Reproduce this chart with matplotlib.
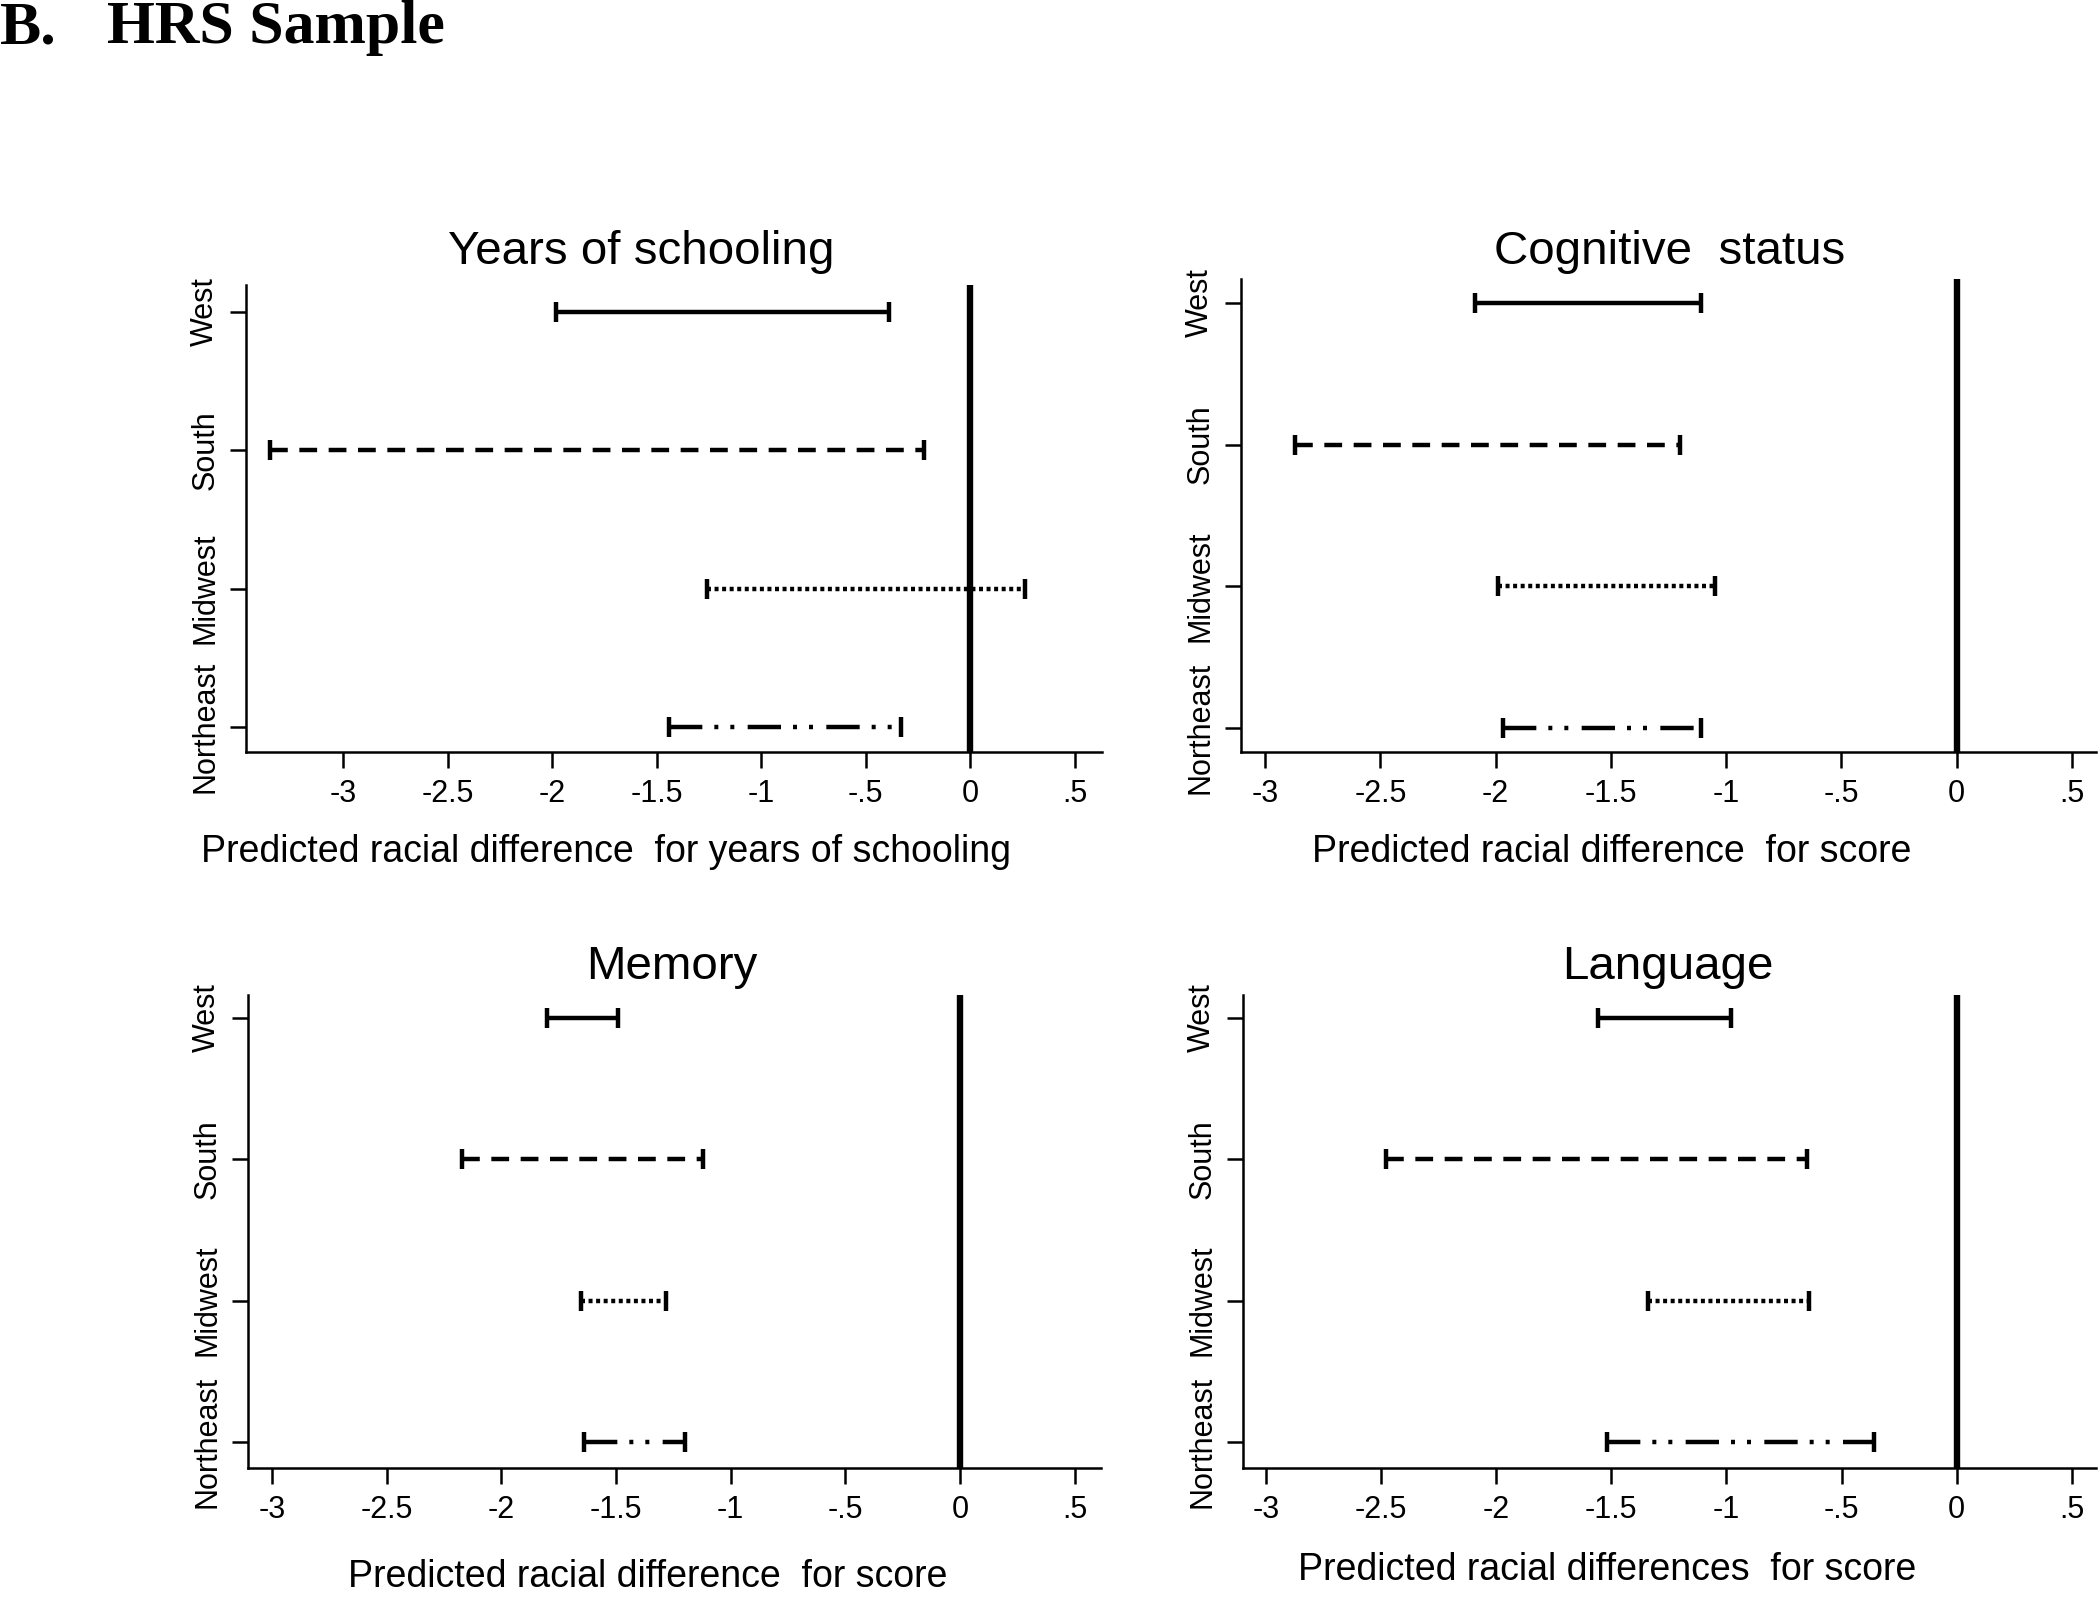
import matplotlib
matplotlib.use("Agg")
import matplotlib.pyplot as plt

plt.rcParams['font.family'] = ['Liberation Sans', 'DejaVu Sans']

# ---------------- data ----------------
regions = ["Northeast", "Midwest", "South", "West"]
region_pos = [1, 2, 3, 4]

schooling_lo = [-1.44, -1.26, -3.35, -1.98]
schooling_hi = [-0.33, 0.26, -0.22, -0.39]

cognitive_lo = [-1.97, -1.99, -2.87, -2.09]
cognitive_hi = [-1.11, -1.05, -1.20, -1.11]

memory_lo = [-1.64, -1.65, -2.17, -1.80]
memory_hi = [-1.20, -1.28, -1.12, -1.49]

language_lo = [-1.52, -1.34, -2.48, -1.56]
language_hi = [-0.36, -0.64, -0.65, -0.98]

x_ticks = [-3, -2.5, -2, -1.5, -1, -0.5, 0, 0.5]
x_tick_labels = ["-3", "-2.5", "-2", "-1.5", "-1", "-.5", "0", ".5"]

titles = ["Years of schooling", "Cognitive  status", "Memory", "Language"]
xlabels = ["Predicted racial difference  for years of schooling",
           "Predicted racial difference  for score",
           "Predicted racial difference  for score",
           "Predicted racial differences  for score"]

# ---------------- style ----------------
W, H = 2100, 1605
fig = plt.figure(figsize=(W / 100, H / 100), dpi=100)
fig.patch.set_facecolor("white")

# styles per region (Northeast, Midwest, South, West)
region_styles = [(0, (7.5, 2.7, 0.9, 2.7, 0.9, 3.0)),
                 (0, (0.9, 0.8)),
                 (0, (4.0, 2.6)),
                 "-"]

LW = 3.2

def px_axes(left, right, top, bottom):
    return [left / W, 1 - bottom / H, (right - left) / W, (bottom - top) / H]

panels = [
    dict(rect=px_axes(246, 1102, 285, 752), xlim=(-3.465, 0.63), ylim=(0.819, 4.193),
         lo=schooling_lo, hi=schooling_hi,
         title_xy=(641, 252), xlabel_xy=(606, 852)),
    dict(rect=px_axes(1241, 2096, 279, 752), xlim=(-3.105, 0.605), ylim=(0.828, 4.17),
         lo=cognitive_lo, hi=cognitive_hi,
         title_xy=(1670, 252), xlabel_xy=(1612, 852)),
    dict(rect=px_axes(248, 1101, 995, 1468), xlim=(-3.104, 0.615), ylim=(0.816, 4.16),
         lo=memory_lo, hi=memory_hi,
         title_xy=(672, 967), xlabel_xy=(648, 1577)),
    dict(rect=px_axes(1243, 2096, 995, 1468), xlim=(-3.1, 0.605), ylim=(0.816, 4.16),
         lo=language_lo, hi=language_hi,
         title_xy=(1668, 967), xlabel_xy=(1607, 1570)),
]

for i, p in enumerate(panels):
    ax = fig.add_axes(p["rect"])
    ax.set_xlim(*p["xlim"])
    ax.set_ylim(*p["ylim"])
    for s in ["top", "right"]:
        ax.spines[s].set_visible(False)
    for s in ["left", "bottom"]:
        ax.spines[s].set_linewidth(1.8)

    ax.axvline(0, color="black", lw=4.6, zorder=2)

    for y, lo, hi, ls in zip(region_pos, p["lo"], p["hi"], region_styles):
        ax.plot([lo, hi], [y, y], color="black", lw=LW, linestyle=ls,
                dash_capstyle="butt", solid_capstyle="butt", zorder=3)
        ax.plot([lo, hi], [y, y], linestyle="none", marker="|", ms=14.5,
                mew=LW, color="black", zorder=3)

    ax.set_xticks(x_ticks)
    ax.set_xticklabels(x_tick_labels)
    ax.set_yticks(region_pos)
    ax.set_yticklabels(regions, rotation=90, va="center")
    ax.tick_params(axis="both", length=11.5, width=1.8, direction="out",
                   labelsize=22, colors="black")
    ax.tick_params(axis="x", pad=8)
    ax.tick_params(axis="y", pad=7)

    tx, ty = p["title_xy"]
    fig.text(tx / W, 1 - ty / H, titles[i], ha="center", va="center", fontsize=34.2)
    lx, ly = p["xlabel_xy"]
    fig.text(lx / W, 1 - ly / H, xlabels[i], ha="center", va="center", fontsize=27)

# header
fig.text(0 / W, 1 - 43 / H, "B.", ha="left", va="baseline", fontsize=44.5,
         fontweight="bold", family=["Liberation Serif", "DejaVu Serif"])
fig.text(107 / W, 1 - 43 / H, "HRS Sample", ha="left", va="baseline", fontsize=44.5,
         fontweight="bold", family=["Liberation Serif", "DejaVu Serif"])

fig.savefig("out.png", dpi=100, facecolor="white")
